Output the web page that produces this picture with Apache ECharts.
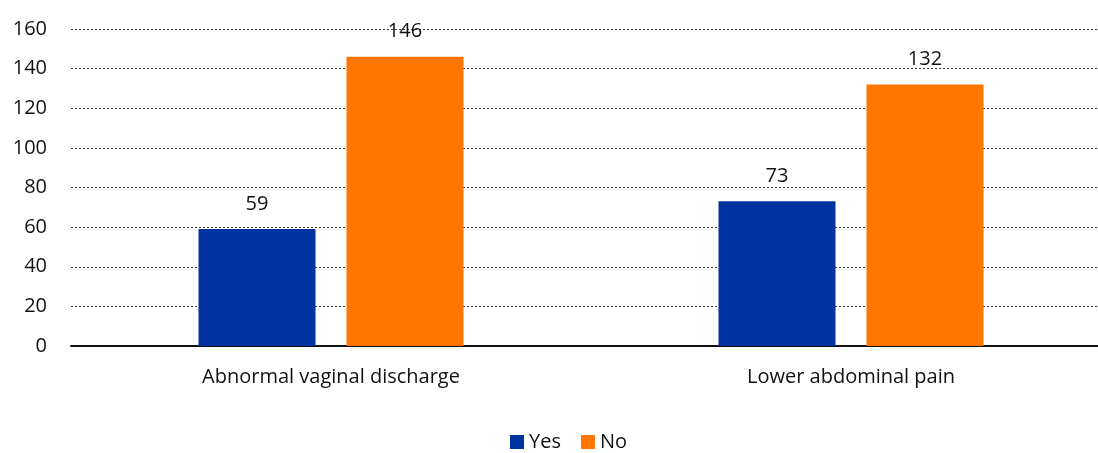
<!DOCTYPE html>
<html>
<head>
<meta charset="utf-8">
<script src="https://cdn.jsdelivr.net/npm/echarts@6/dist/echarts.min.js"></script>
<style>
  html, body { margin: 0; padding: 0; background: #fff; }
  #chart { width: 1098px; height: 453px; }
</style>
</head>
<body>
<div id="chart"></div>
<script>
// Symptom categories and counts per answer
const categories = ['Abnormal vaginal discharge', 'Lower abdominal pain'];
const yesValues = [59, 73];
const noValues = [146, 132];
const seriesNames = ['Yes', 'No'];

const FONT = '"Open Sans", Lato, sans-serif';
const chart = echarts.init(document.getElementById('chart'), null, { renderer: 'canvas' });

const labelStyle = {
  show: true,
  position: 'top',
  distance: 15,
  color: '#111',
  fontSize: 20,
  fontFamily: FONT
};

chart.setOption({
  animation: false,
  textStyle: { fontFamily: FONT },
  grid: { left: 71, top: 29, width: 1040, height: 317, containLabel: false, outerBoundsMode: 'none' },
  legend: {
    bottom: -4,
    left: 505,
    itemWidth: 14,
    itemHeight: 14,
    itemGap: 20,
    icon: 'rect',
    textStyle: { fontSize: 20, color: '#111', fontFamily: FONT },
    data: seriesNames
  },
  xAxis: {
    type: 'category',
    data: categories,
    axisTick: { show: false },
    axisLine: { lineStyle: { color: '#111', width: 2 } },
    axisLabel: { fontSize: 20, color: '#111', margin: 21, fontFamily: FONT }
  },
  yAxis: {
    type: 'value',
    min: 0,
    max: 160,
    interval: 20,
    axisLine: { show: false },
    axisTick: { show: false },
    axisLabel: { fontSize: 20, color: '#111', margin: 24, fontFamily: FONT },
    splitLine: { lineStyle: { color: '#333', type: [2, 2], width: 1 } }
  },
  series: [
    {
      name: seriesNames[0],
      type: 'bar',
      data: yesValues,
      barWidth: 117,
      barGap: '26.5%',
      itemStyle: { color: '#0033A0' },
      label: labelStyle
    },
    {
      name: seriesNames[1],
      type: 'bar',
      data: noValues,
      barWidth: 117,
      barGap: '26.5%',
      itemStyle: { color: '#FF7500' },
      label: labelStyle
    }
  ]
});
</script>
</body>
</html>
